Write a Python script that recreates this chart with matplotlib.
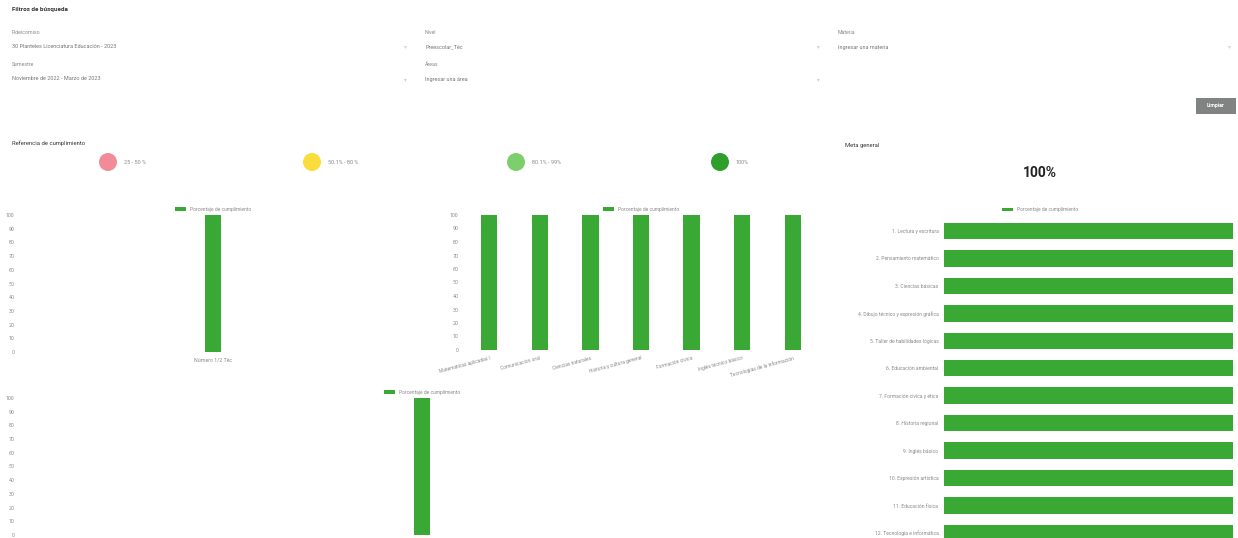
import matplotlib
matplotlib.use("Agg")
import matplotlib.pyplot as plt
from matplotlib.patches import Ellipse, FancyBboxPatch

plt.rcParams['font.family'] = ['Roboto', 'DejaVu Sans']

W, H = 1238, 538
GREEN = '#3aa835'
GREY = '#8a8a8a'

# ---- data ----
filter_labels = ['Fideicomiso', 'Nivel', 'Materia', 'Semestre', 'Áreas']
filter_values = ['30 Planteles Licenciatura Educación - 2023', 'Preescolar_Téc', 'Ingresar una materia',
                 'Noviembre de 2022 - Marzo de 2023', 'Ingresar una área']

ref_labels = ['25 - 50 %', '50.1% - 80 %', '80.1% - 99%', '100%']
ref_colors = ['#f28b98', '#f8dd3c', '#7ccf6c', '#2f9f2c']

legend_label = 'Porcentaje de cumplimiento'

chart1_cats = ['Número 1/2 Téc']
chart1_vals = [100]

chart2_cats = ['Matemáticas aplicadas I', 'Comunicación oral', 'Ciencias naturales',
               'Historia y cultura general', 'Formación cívica', 'Inglés técnico básico',
               'Tecnologías de la información']
chart2_vals = [100, 100, 100, 100, 100, 100, 100]

chart3_cats = ['Orientación educativa']
chart3_vals = [100]

meta_cats = ['1. Lectura y escritura', '2. Pensamiento matemático', '3. Ciencias básicas',
             '4. Dibujo técnico y expresión gráfica', '5. Taller de habilidades lógicas',
             '6. Educación ambiental', '7. Formación cívica y ética', '8. Historia regional',
             '9. Inglés básico', '10. Expresión artística', '11. Educación física',
             '12. Tecnología e informática']
meta_vals = [100] * 12
meta_total = '100%'

y_ticks = list(range(0, 101, 10))


def fx(px):
    return px / W


def fy(py):
    return 1 - py / H


def box(left, top, right, bottom):
    return [fx(left), fy(bottom), fx(right - left), (bottom - top) / H]


fig = plt.figure(figsize=(W / 100, H / 100), dpi=100)
fig.patch.set_facecolor('white')

# ---- filter panel ----
fig.text(fx(12), fy(10), 'Filtros de búsqueda', fontsize=4.5, fontweight='bold', color='#333', va='center')
label_pos = [(12, 33), (425, 33), (838, 33), (12, 65), (425, 65)]
for (x, y), lab, val in zip(label_pos, filter_labels, filter_values):
    fig.text(fx(x), fy(y), lab, fontsize=3.8, color=GREY, va='center')
    fig.text(fx(x), fy(y + 14), val, fontsize=4, color='#777', va='center')
for x, y in [(405, 47), (818, 47), (1229, 47), (405, 80), (818, 80)]:
    fig.text(fx(x), fy(y), '▾', fontsize=4, color='#cfcfcf', va='center', ha='center')

btn = FancyBboxPatch((fx(1196), fy(114)), fx(40), 16 / H, boxstyle='square,pad=0',
                     transform=fig.transFigure, facecolor='#7f8381', edgecolor='none')
fig.patches.append(btn)
fig.text(fx(1216), fy(106), 'Limpiar', fontsize=3.8, color='white', ha='center', va='center', fontweight='bold')

# ---- reference of compliance ----
fig.text(fx(12), fy(143), 'Referencia de cumplimiento', fontsize=4.2, color='#333', va='center')
for cx, lab, col in zip([108, 312, 516, 720], ref_labels, ref_colors):
    c = Ellipse((fx(cx), fy(162)), 18 / W, 18 / H, transform=fig.transFigure, facecolor=col, edgecolor='none')
    fig.patches.append(c)
    fig.text(fx(cx + 16), fy(162), lab, fontsize=4, color=GREY, va='center')

fig.text(fx(845), fy(146), 'Meta general', fontsize=4.2, color='#333', va='center')
fig.text(fx(1040), fy(173), meta_total, fontsize=10, fontweight='bold', color='#222', ha='center', va='center')


def style(ax):
    for s in ax.spines.values():
        s.set_visible(False)
    ax.tick_params(length=0, labelsize=3.8, labelcolor=GREY, pad=4)


def vchart(rect, cats, vals, width):
    ax = fig.add_axes(rect)
    ax.bar(cats, vals, width=width, color=GREEN, label=legend_label)
    ax.set_ylim(0, 100)
    ax.set_yticks(y_ticks)
    style(ax)
    ax.legend(loc='lower center', bbox_to_anchor=(0.5, 1.01), frameon=False, fontsize=3.5,
              handlelength=2.2, handleheight=0.6, labelcolor=GREY, borderaxespad=0)
    return ax


ax1 = vchart(box(20, 215, 406, 352), chart1_cats, chart1_vals, 16 / 386)
ax1.set_xlim(-0.5, 0.5)

ax2 = vchart(box(464, 215, 818, 350), chart2_cats, chart2_vals, 0.32)
ax2.set_xlim(-0.5, len(chart2_cats) - 0.5)
plt.setp(ax2.get_xticklabels(), rotation=15, ha='right', rotation_mode='anchor', fontsize=3.5)

ax3 = vchart(box(20, 398, 824, 535), chart3_cats, chart3_vals, 16 / 804)
ax3.set_xlim(-0.5, 0.5)
ax3.set_xticks([])

# ---- horizontal meta chart (continues below the visible area) ----
n = len(meta_cats)
row = 27.45
ax4 = fig.add_axes(box(944, 231 - row / 2, 1233, 231 - row / 2 + (n + 1) * row))
ax4.barh(meta_cats, meta_vals, height=0.6, color=GREEN, label=legend_label)
ax4.set_xlim(0, 100)
ax4.set_ylim(n + 0.5, -0.5)
ax4.set_xticks([])
style(ax4)
ax4.tick_params(axis='y', labelsize=3.6)
fig.legend(*ax4.get_legend_handles_labels(), loc='center', bbox_to_anchor=(fx(1040), fy(210)),
           frameon=False, fontsize=3.5, handlelength=2.2, handleheight=0.6, labelcolor=GREY)

fig.savefig('out.png', dpi=100, facecolor='white')
